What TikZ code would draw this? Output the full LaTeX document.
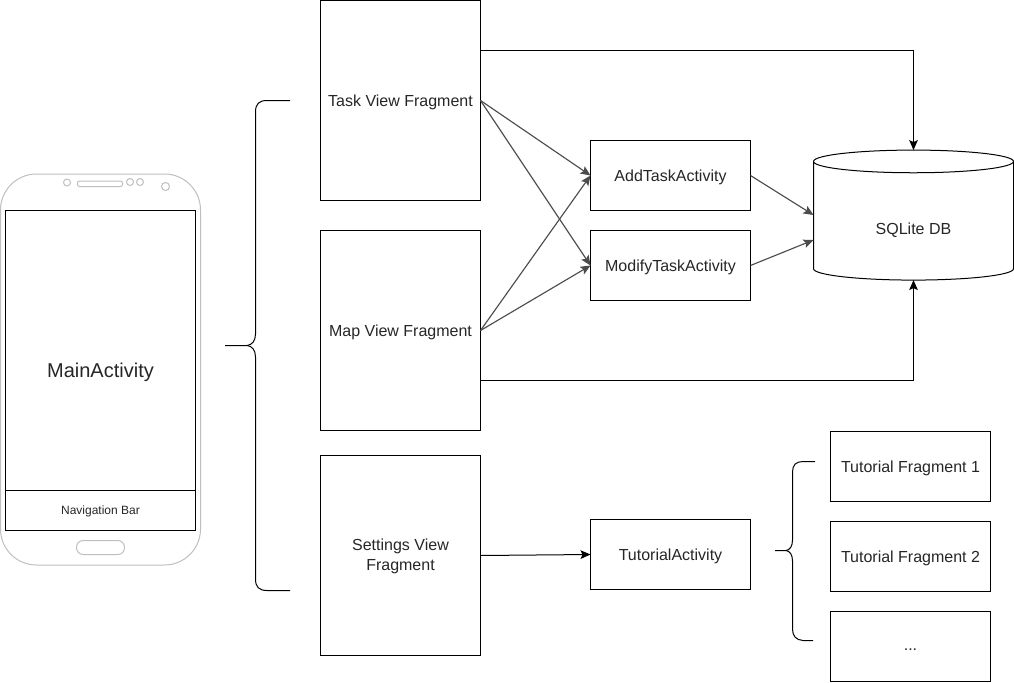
\documentclass[tikz,border=0pt]{standalone}
\usepackage{fontspec}
\setmainfont{Liberation Sans}
\usetikzlibrary{arrows.meta,shapes.geometric}

\begin{document}
\begin{tikzpicture}[x=0.75pt,y=-0.75pt,line width=0.75pt,
    textlabel/.style={text=black!85,font=\fontsize{12}{15}\selectfont,align=center,text height=11pt,text depth=2pt},
    fragbox/.style={draw,textlabel,inner sep=0pt,outer sep=0pt,minimum width=120pt,minimum height=150pt},
    actbox/.style={draw,textlabel,inner sep=0pt,outer sep=0pt,minimum width=120pt,minimum height=52.5pt},
    phoneline/.style={draw=black!25},
    link/.style={-{Stealth[length=7.5pt,width=6.5pt,inset=1.5pt]}},
    slant/.style={link,draw=black!70,line width=0.85pt}]
  \useasboundingbox (0,0) rectangle (1014,682);

  % draw the phone
  \node[phoneline,rounded corners=27pt,minimum width=150pt,minimum height=293.25pt,inner sep=0pt] (phone) at (100.5,369.5) {};
  \foreach \cx/\cy/\cr in {67/182.5/3.5,130/182/3.5,140/182/3.5,165.5/186.5/4}
    \draw[phoneline] (\cx,\cy) circle (\cr);
  \draw[phoneline,rounded corners=1.5pt] (77.5,181) rectangle (122.5,186.5);
  \draw[phoneline,rounded corners=5pt] (76.5,540.5) rectangle (124.5,554.5);
  \node[draw,minimum width=142.5pt,minimum height=240pt,inner sep=0pt,outer sep=0pt,text=black!85,font=\fontsize{15}{18}\selectfont,text height=14pt,text depth=3pt] (main) at (100.5,370.5) {MainActivity};
  \node[draw,minimum width=142.5pt,minimum height=30pt,inner sep=0pt,outer sep=0pt,text=black!85,font=\fontsize{9}{11}\selectfont,text height=8pt,text depth=2pt] (navbar) at (100.5,510.5) {Navigation Bar};

  % draw the big brace
  \draw (290,100.5) -- (267,100.5) .. controls (259,100.5) and (255.5,104) .. (255.5,112)
    -- (255.5,334) .. controls (255.5,341) and (252,345) .. (247,345.5) -- (225,345.5);
  \draw (247,345.5) .. controls (252,346) and (255.5,350) .. (255.5,357)
    -- (255.5,579) .. controls (255.5,587) and (259,590.5) .. (267,590.5) -- (290,590.5);

  % draw the fragments
  \node[fragbox] (taskview) at (400.5,100.5) {Task View Fragment};
  \node[fragbox] (mapview) at (400.5,330.5) {Map View Fragment};
  \node[fragbox,text height=24.5pt,text depth=2pt] (settingsview) at (400.5,555.5) {Settings View\\Fragment};

  % draw the activities
  \node[actbox] (addtask) at (670.5,175.5) {AddTaskActivity};
  \node[actbox] (modifytask) at (670.5,265.5) {ModifyTaskActivity};
  \node[actbox] (tutorial) at (670.5,554.5) {TutorialActivity};

  % draw the database
  \node[draw,cylinder,shape border rotate=90,shape aspect=0.3,textlabel,inner sep=0pt,outer sep=0pt,minimum width=150pt,minimum height=97.5pt,text height=21.5pt,text depth=2pt] (db) at (913.5,221) {SQLite DB};

  % draw the tutorial fragments
  \node[actbox] (tutone) at (910.5,466.5) {Tutorial Fragment 1};
  \node[actbox] (tuttwo) at (910.5,556.5) {Tutorial Fragment 2};
  \node[actbox,text height=8pt,text depth=2pt] (tutmore) at (910.5,646.5) {...};

  % draw the small brace
  \draw (815,461.5) -- (803,461.5) .. controls (796,461.5) and (792.5,465) .. (792.5,472)
    -- (792.5,540) .. controls (792.5,546) and (790,550) .. (786,550.5) -- (775,550.5);
  \draw (786,550.5) .. controls (790,551) and (792.5,555) .. (792.5,561)
    -- (792.5,629) .. controls (792.5,636) and (796,640) .. (803,640.5) -- (813,640.5);

  % connect to the database
  \coordinate (taskout) at (480.5,50.5);
  \coordinate (mapout) at (480.5,380.5);
  \coordinate (addin) at (813.5,215);
  \coordinate (modifyin) at (813.5,240);
  \draw[link] (taskout) -| (db.top);
  \draw[link] (mapout) -| (db.bottom);
  \draw[slant] (addtask.east) -- (addin);
  \draw[slant] (modifytask.east) -- (modifyin);

  % connect the fragments to the activities
  \draw[slant] (taskview.east) -- (addtask.west);
  \draw[slant] (taskview.east) -- (modifytask.west);
  \draw[slant] (mapview.east) -- (addtask.west);
  \draw[slant] (mapview.east) -- (modifytask.west);
  \draw[link] (settingsview.east) -- (tutorial.west);
\end{tikzpicture}
\end{document}
